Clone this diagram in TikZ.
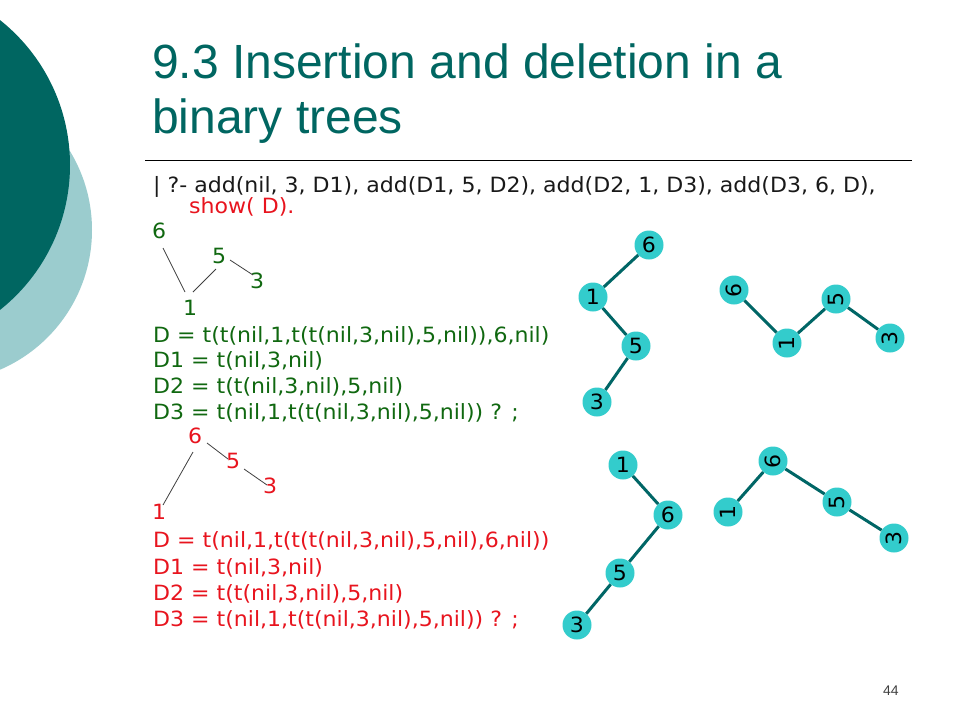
\documentclass[tikz,border=0pt]{standalone}
\usepackage{fontspec}
\setmainfont{Liberation Sans}
\newfontfamily\verd[FakeStretch=1.05]{DejaVu Sans}
\definecolor{teal1}{RGB}{0,102,97}
\definecolor{teal2}{RGB}{155,204,206}
\definecolor{nodecyan}{RGB}{51,204,204}
\definecolor{edgeteal}{RGB}{0,102,102}
\definecolor{codegreen}{RGB}{16,104,16}
\definecolor{codered}{RGB}{232,20,30}
\definecolor{codeblack}{RGB}{25,25,25}
\tikzset{
  txt/.style={anchor=base west, inner sep=0pt, font=\verd\fontsize{21}{25}\selectfont},
  gtxt/.style={txt, text=codegreen},
  rtxt/.style={txt, text=codered},
  tnode/.style={circle, fill=nodecyan, minimum size=29pt, inner sep=0pt, font=\verd\fontsize{21}{22}\selectfont, text=black},
  tedge/.style={draw=edgeteal, line width=3pt},
  thin/.style={draw=black!75, line width=0.8pt}
}
\begin{document}
\begin{tikzpicture}[x=1pt,y=-1pt]
\useasboundingbox (0,0) rectangle (960,720);
\fill[white] (0,0) rectangle (960,720);
% decorative circles
\begin{scope}
\clip (0,0) rectangle (960,720);
\fill[teal2] (-60,230) circle (152);
\fill[teal1] (-115,165) circle (185);
\end{scope}
% title
\node[anchor=base west, inner sep=0pt, text=teal1, font=\fontsize{48}{55}\selectfont] (t1) at (152,78) {9.3 Insertion and deletion in a};
\node[anchor=base west, inner sep=0pt, text=teal1, font=\fontsize{48}{55}\selectfont] (t2) at (152,133) {binary trees};
\draw[black, line width=1pt] (145,160) -- (912,160);
% query
\node[txt, text=codeblack] (q1) at (153,192) {| ?- add(nil, 3, D1), add(D1, 5, D2), add(D2, 1, D3), add(D3, 6, D),};
\node[rtxt] (q2) at (189,213) {show( D).};
% green tree
\node[gtxt] (g6) at (152,238) {6};
\node[gtxt] (g5) at (212,263) {5};
\node[gtxt] (g3) at (250,288) {3};
\node[gtxt] (g1) at (183,315) {1};
\coordinate (ga) at (163,248); \coordinate (gb) at (185,292);
\coordinate (gc) at (193,292); \coordinate (gd) at (216,269);
\coordinate (ge) at (230,260); \coordinate (gf) at (253,275);
\draw[thin] (ga) -- (gb);
\draw[thin] (gc) -- (gd);
\draw[thin] (ge) -- (gf);
\node[gtxt] (gD) at (153,342) {D = t(t(nil,1,t(t(nil,3,nil),5,nil)),6,nil)};
\node[gtxt] (gD1) at (153,367) {D1 = t(nil,3,nil)};
\node[gtxt] (gD2) at (153,393) {D2 = t(t(nil,3,nil),5,nil)};
\node[gtxt] (gD3) at (153,419) {D3 = t(nil,1,t(t(nil,3,nil),5,nil)) ? ;};
% red tree
\node[rtxt] (r6) at (188,443) {6};
\node[rtxt] (r5) at (226,468) {5};
\node[rtxt] (r3) at (263,493) {3};
\node[rtxt] (r1) at (152,519) {1};
\coordinate (ra) at (193,452); \coordinate (rb) at (163,505);
\coordinate (rc) at (207,443); \coordinate (rd) at (228,459);
\coordinate (re) at (244,469); \coordinate (rf) at (267,485);
\draw[thin] (ra) -- (rb);
\draw[thin] (rc) -- (rd);
\draw[thin] (re) -- (rf);
\node[rtxt] (rD) at (153,547) {D = t(nil,1,t(t(t(nil,3,nil),5,nil),6,nil))};
\node[rtxt] (rD1) at (153,574) {D1 = t(nil,3,nil)};
\node[rtxt] (rD2) at (153,600) {D2 = t(t(nil,3,nil),5,nil)};
\node[rtxt] (rD3) at (153,626) {D3 = t(nil,1,t(t(nil,3,nil),5,nil)) ? ;};
% tree A
\node[tnode] (a6) at (649,245) {6};
\node[tnode] (a1) at (593,297) {1};
\node[tnode] (a5) at (636,346) {5};
\node[tnode] (a3) at (597,402) {3};
\draw[tedge] (a6) -- (a1);
\draw[tedge] (a1) -- (a5);
\draw[tedge] (a5) -- (a3);
% tree B
\node[tnode, rotate=90] (b6) at (734,290) {6};
\node[tnode, rotate=90] (b1) at (787,343) {1};
\node[tnode, rotate=90] (b5) at (836,299) {5};
\node[tnode, rotate=90] (b3) at (890,338) {3};
\draw[tedge] (b6) -- (b1);
\draw[tedge] (b1) -- (b5);
\draw[tedge] (b5) -- (b3);
% tree C
\node[tnode] (c1) at (623,465) {1};
\node[tnode] (c6) at (668,515) {6};
\node[tnode] (c5) at (620,573) {5};
\node[tnode] (c3) at (577,625) {3};
\draw[tedge] (c1) -- (c6);
\draw[tedge] (c6) -- (c5);
\draw[tedge] (c5) -- (c3);
% tree D
\node[tnode, rotate=90] (d6) at (773,461) {6};
\node[tnode, rotate=90] (d1) at (728,512) {1};
\node[tnode, rotate=90] (d5) at (837,502) {5};
\node[tnode, rotate=90] (d3) at (894,538) {3};
\draw[tedge] (d6) -- (d1);
\draw[tedge] (d6) -- (d5);
\draw[tedge] (d5) -- (d3);
% page number
\node[anchor=base west, inner sep=0pt, text=black!75, font=\fontsize{14}{16}\selectfont] (pg) at (883,695) {44};
\end{tikzpicture}
\end{document}
